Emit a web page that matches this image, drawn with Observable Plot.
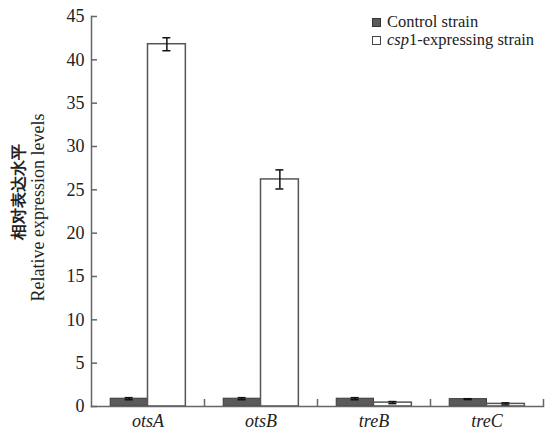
<!DOCTYPE html>
<html>
<head>
<meta charset="utf-8">
<script src="https://cdn.jsdelivr.net/npm/d3@7"></script>
<script src="https://cdn.jsdelivr.net/npm/@observablehq/plot@0.6"></script>
<style>
  body { margin: 0; background: #fff; }
  #wrap { position: relative; width: 557px; height: 434px; }
  #legend { position: absolute; left: 372px; top: 13px; font-family: "Liberation Serif", "Times New Roman", serif; font-size: 16.5px; color: #222; line-height: 18px; }
  #legend .row { display: flex; align-items: center; white-space: nowrap; height: 18px; }
  #legend .sw { width: 9px; height: 9px; margin-right: 6px; box-sizing: border-box; }
  svg text { font-family: "Liberation Serif", "Times New Roman", serif; }
</style>
</head>
<body>
<div id="wrap"></div>
<script>
const genes = ["otsA", "otsB", "treB", "treC"];
const strains = ["Control strain", "csp1-expressing strain"];
const controlValues = [0.9, 0.9, 0.9, 0.85];
const controlErrors = [0.12, 0.12, 0.12, 0.05];
const cspValues = [41.8, 26.2, 0.45, 0.3];
const cspErrors = [0.75, 1.1, 0.12, 0.12];
const yTicks = [0, 5, 10, 15, 20, 25, 30, 35, 40, 45];

const W = 557, H = 434;
const mL = 91, mR = 14, mT = 16, mB = 28;
const bw = (W - mL - mR) / genes.length;

const rows = (vals, errs, strain) => genes.map((g, i) => ({gene: g, strain, value: vals[i], lo: vals[i] - errs[i], hi: vals[i] + errs[i]}));
const control = rows(controlValues, controlErrors, strains[0]);
const csp = rows(cspValues, cspErrors, strains[1]);

const cap = 4;

const errMarks = (data, dx) => [
  Plot.ruleX(data, {x: "gene", y1: "lo", y2: "hi", dx, stroke: "#111", strokeWidth: 1.5}),
  Plot.tickY(data, {x: "gene", y: "hi", insetLeft: bw / 2 + dx - cap, insetRight: bw / 2 - dx - cap, stroke: "#111", strokeWidth: 1.5}),
  Plot.tickY(data, {x: "gene", y: "lo", insetLeft: bw / 2 + dx - cap, insetRight: bw / 2 - dx - cap, stroke: "#111", strokeWidth: 1.5})
];

const chart = Plot.plot({
  width: W, height: H,
  marginLeft: mL, marginRight: mR, marginTop: mT, marginBottom: mB,
  style: {fontFamily: "Liberation Serif, Times New Roman, serif", fontSize: "18px", color: "#222", background: "#fff"},
  x: {domain: genes, padding: 0, axis: null},
  y: {domain: [0, 45], axis: null},
  marks: [
    Plot.barY(control, {x: "gene", y: "value", insetLeft: bw * 0.17, insetRight: bw * 0.5, fill: "#5a5a5a", stroke: "#3c3c3c", strokeWidth: 1}),
    Plot.barY(csp, {x: "gene", y: "value", insetLeft: bw * 0.5, insetRight: bw * 0.165, fill: "#fff", stroke: "#555", strokeWidth: 1.5}),
    ...errMarks(control, -bw * 0.167),
    ...errMarks(csp, bw * 0.167),
    Plot.frame({anchor: "left", stroke: "#666", strokeWidth: 1.5}),
    Plot.frame({anchor: "bottom", stroke: "#666", strokeWidth: 1.5}),
    Plot.axisY(yTicks, {anchor: "left", tickSize: -6, tickPadding: 13, stroke: "#666", strokeWidth: 1.5, fill: "#222", fontSize: 18, label: null}),
    Plot.axisX(genes, {anchor: "bottom", tickSize: 0, tickPadding: 8, fontStyle: "italic", fill: "#222", fontSize: 18, label: null}),
    Plot.axisX(genes, {anchor: "bottom", tickSize: -7, dx: bw / 2, tickFormat: () => "", stroke: "#666", strokeWidth: 1.5, label: null}),
    Plot.text(["相对表达水平"], {frameAnchor: "left", textAnchor: "middle", rotate: -90, dx: -73, dy: -20, fontFamily: "Noto Sans CJK SC", fontWeight: "bold", fontSize: 16, fill: "#222"}),
    Plot.text(["Relative expression levels"], {frameAnchor: "left", textAnchor: "middle", rotate: -90, dx: -53, dy: -4, fontSize: 18, fill: "#222"})
  ]
});

const wrap = document.getElementById("wrap");
wrap.appendChild(chart);

const legend = document.createElement("div");
legend.id = "legend";
legend.innerHTML =
  `<div class="row"><span class="sw" style="background:#5a5a5a;border:1.5px solid #333"></span><span>Control strain</span></div>` +
  `<div class="row"><span class="sw" style="background:#fff;border:1.5px solid #444"></span><span><i>csp</i>1-expressing strain</span></div>`;
wrap.appendChild(legend);
</script>
</body>
</html>
